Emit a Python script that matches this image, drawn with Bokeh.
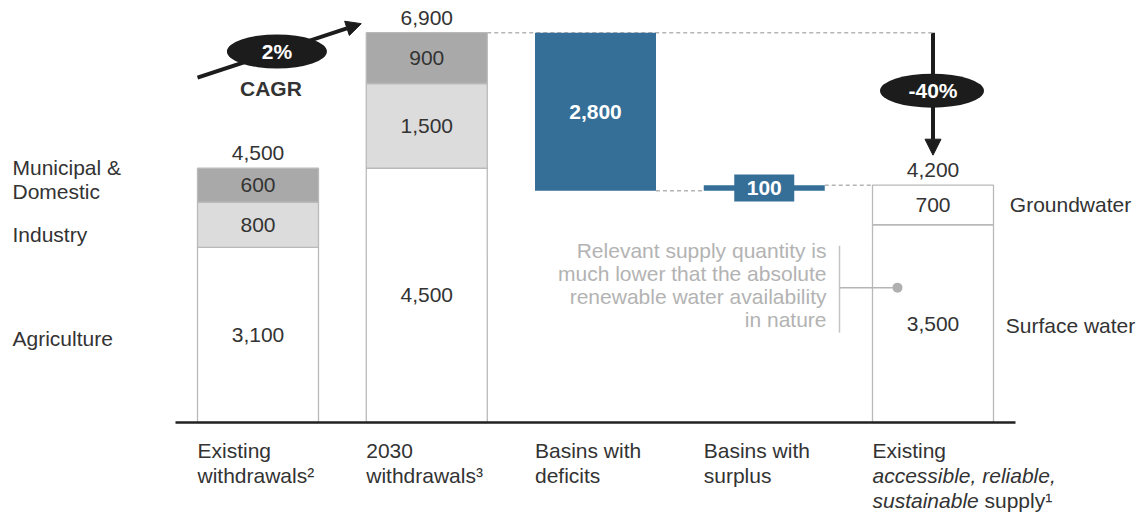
from bokeh.plotting import figure
from bokeh.models import Range1d, Arrow, NormalHead
from bokeh.core.properties import value
from bokeh.embed import file_html
from bokeh.resources import INLINE

# ---------------- data (km3 of water) ----------------
categories = ["Existing withdrawals", "2030 withdrawals", "Basins with deficits",
              "Basins with surplus", "Existing supply"]
sectors = ["Agriculture", "Industry", "Municipal & Domestic"]
existing_withdrawals = [3100, 800, 600]
withdrawals_2030 = [4500, 1500, 900]
basin_deficit = 2800
basin_surplus = 100
supply_sources = ["Surface water", "Groundwater"]
existing_supply = [3500, 700]
cagr_text = "2%"
gap_text = "-40%"

# category captions, one entry per line: (text, style, x offset in px)
captions = [
    [[("Existing", "normal", 0)], [("withdrawals\u00b2", "normal", 0)]],
    [[("2030", "normal", 0)], [("withdrawals\u00b3", "normal", 0)]],
    [[("Basins with", "normal", 0)], [("deficits", "normal", 0)]],
    [[("Basins with", "normal", 0)], [("surplus", "normal", 0)]],
    [[("Existing", "normal", 0)], [("accessible, reliable,", "italic", 0)],
     [("sustainable", "italic", 0), ("supply\u00b9", "normal", 112)]],
]
note_lines = ["Relevant supply quantity is", "much lower that the absolute",
              "renewable water availability", "in nature"]

# ---------------- layout ----------------
W, H = 1142, 513
SLOT = 168.75          # px between category centres
X_FIRST = 257.5        # px position of first category centre
Y_BASE = 422           # px position of zero line
PX_PER_UNIT = 0.0565   # vertical px per km3
dx = 1.0 / SLOT        # data units per horizontal px
dy = 1.0 / PX_PER_UNIT # data units per vertical px
BW = 121 * dx

FONT = value("Liberation Sans")
TXT = "#333333"
EDGE = "#b9b9b9"
BLUE = "#356f98"
DARK = "#1c1c1c"
SIZE = "21px"

p = figure(width=W, height=H, output_backend="svg", toolbar_location=None,
           x_range=Range1d(-X_FIRST / SLOT, (W - X_FIRST) / SLOT),
           y_range=Range1d(-(H - Y_BASE) * dy, Y_BASE * dy),
           x_axis_type=None, y_axis_type=None, min_border=0)
p.grid.visible = False
p.outline_line_color = None
p.background_fill_color = "white"
p.border_fill_color = "white"


def label(x, y, txt, x_off=0, y_off=0, align="center", color=TXT, style="normal", size=SIZE):
    p.text(x=[x], y=[y], text=[txt], x_offset=x_off, y_offset=y_off,
           text_align=align, text_baseline="middle", text_color=color,
           text_font=FONT, text_font_style=style, text_font_size=size)


total_now = sum(existing_withdrawals)
total_2030 = sum(withdrawals_2030)
deficit_bottom = total_2030 - basin_deficit
total_supply = sum(existing_supply)

# connector lines
p.line([1 + BW / 2, 4], [total_2030, total_2030], line_color="#b5b5b5",
       line_width=1.5, line_dash="4 3")
p.line([2 + BW / 2, 3 - BW / 2], [deficit_bottom, deficit_bottom], line_color="#b5b5b5",
       line_width=1.5, line_dash="4 3")
p.line([3 + BW / 2, 4 - BW / 2], [total_supply, total_supply], line_color="#b5b5b5",
       line_width=1.5, line_dash="4 3")


def stacked(ix, vals, fills):
    bottoms, tops = [], []
    acc = 0
    for v in vals:
        bottoms.append(acc)
        acc += v
        tops.append(acc)
    p.quad(left=[ix - BW / 2] * len(vals), right=[ix + BW / 2] * len(vals),
           bottom=bottoms, top=tops, fill_color=fills, line_color=EDGE, line_width=1.3)
    for b, t, v in zip(bottoms, tops, vals):
        label(ix, (b + t) / 2, f"{v:,}")
    label(ix, acc, f"{acc:,}", y_off=-15)
    return bottoms, tops


sector_fills = ["white", "#dcdcdc", "#a9a9a9"]
b1, t1 = stacked(0, existing_withdrawals, sector_fills)
stacked(1, withdrawals_2030, sector_fills)
b5, t5 = stacked(4, existing_supply, ["white", "white"])

# deficit bar
p.quad(left=[2 - BW / 2], right=[2 + BW / 2], bottom=[deficit_bottom], top=[total_2030],
       fill_color=BLUE, line_color=None)
label(2, deficit_bottom + basin_deficit / 2, f"{basin_deficit:,}", color="white", style="bold")

# surplus bar with its label tag
p.quad(left=[3 - BW / 2], right=[3 + BW / 2], bottom=[deficit_bottom],
       top=[deficit_bottom + basin_surplus], fill_color=BLUE, line_color=None)
p.rect(x=[3], y=[deficit_bottom + basin_surplus / 2], width=60, height=27,
       width_units="screen", height_units="screen", fill_color=BLUE, line_color=None)
label(3, deficit_bottom + basin_surplus / 2, f"{basin_surplus:,}", color="white", style="bold")

# zero line
p.segment(x0=[-BW / 2 - 22 * dx], x1=[4 + BW / 2 + 22 * dx], y0=[0], y1=[0],
          line_color="#222222", line_width=2.5)

# sector names on the left
left_x = -BW / 2
label(left_x, (b1[0] + t1[0]) / 2, sectors[0], x_off=-185, y_off=4, align="left")
label(left_x, (b1[1] + t1[1]) / 2, sectors[1], x_off=-185, y_off=10, align="left")
label(left_x, (b1[2] + t1[2]) / 2, "Municipal &", x_off=-185, y_off=-18, align="left")
label(left_x, (b1[2] + t1[2]) / 2, "Domestic", x_off=-185, y_off=6, align="left")

# supply source names on the right
right_x = 4 + BW / 2
label(right_x, (b5[1] + t5[1]) / 2, supply_sources[1], x_off=77)
label(right_x, (b5[0] + t5[0]) / 2, supply_sources[0], x_off=77, y_off=2)

# category captions below the zero line
for ix, lines in enumerate(captions):
    for li, parts in enumerate(lines):
        for txt, style, xo in parts:
            label(ix - BW / 2, 0, txt, x_off=xo, y_off=28 + 25 * li, align="left", style=style)

# growth arrow between withdrawals
cagr_x0, cagr_y0 = -BW / 2, total_2030 - 45 * dy
cagr_x1, cagr_y1 = 1 - BW / 2 - 5 * dx, total_2030 + 9 * dy
p.add_layout(Arrow(end=NormalHead(size=15, fill_color=DARK, line_color=DARK),
                   x_start=cagr_x0, y_start=cagr_y0, x_end=cagr_x1, y_end=cagr_y1,
                   line_color=DARK, line_width=4, level="underlay"))
ex = cagr_x0 + 0.485 * (cagr_x1 - cagr_x0)
ey = cagr_y0 + 0.485 * (cagr_y1 - cagr_y0)
p.ellipse(x=[ex], y=[ey], width=100, height=34, width_units="screen",
          height_units="screen", fill_color=DARK, line_color=None)
label(ex, ey, cagr_text, color="white", style="bold")
label(ex, ey, "CAGR", x_off=-6, y_off=37, style="bold")

# gap arrow from 2030 demand down to supply
p.add_layout(Arrow(end=NormalHead(size=16, fill_color=DARK, line_color=DARK),
                   x_start=4, y_start=total_2030, x_end=4, y_end=total_supply + 30 * dy,
                   line_color=DARK, line_width=4, level="underlay"))
gy = total_2030 - 58 * dy
p.ellipse(x=[4 - 1 * dx], y=[gy], width=104, height=34, width_units="screen",
          height_units="screen", fill_color=DARK, line_color=None)
label(4, gy, gap_text, color="white", style="bold")

# callout on the surface water block
dot_y = existing_supply[0] / 2 + 36 * dy
note_x = 4 - BW / 2
p.segment(x0=[note_x - 33 * dx], x1=[note_x - 33 * dx], y0=[dot_y - 45 * dy],
          y1=[dot_y + 42 * dy], line_color="#c4c4c4", line_width=1.5)
p.segment(x0=[note_x - 33 * dx], x1=[note_x + 25 * dx], y0=[dot_y], y1=[dot_y],
          line_color="#b5b5b5", line_width=1.5)
p.scatter(x=[note_x + 25 * dx], y=[dot_y], size=10, fill_color="#b0b0b0", line_color=None)
for i, ln in enumerate(note_lines):
    label(note_x, dot_y, ln, x_off=-46, y_off=-37 + 23 * i, align="right", color="#b3b3b3")

open("out.html", "w").write(file_html(p, INLINE))
